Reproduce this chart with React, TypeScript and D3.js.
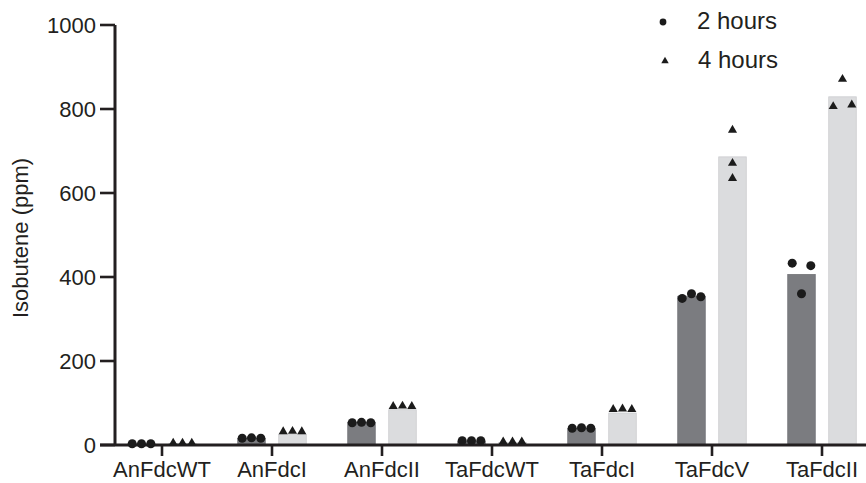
import React from "react";
import * as d3 from "d3";

const categories = ["AnFdcWT", "AnFdcI", "AnFdcII", "TaFdcWT", "TaFdcI", "TaFdcV", "TaFdcII"];
const seriesNames = ["2 hours", "4 hours"];
const mean2h = [2, 16, 54, 9, 39, 354, 406];
const mean4h = [3, 25, 84, 6, 76, 686, 829];
const points2h = [
  [3, 3, 3],
  [16, 17, 16],
  [53, 54, 53],
  [10, 10, 10],
  [40, 41, 40],
  [349, 360, 353],
  [433, 360, 427],
];
const points4h = [
  [5, 5, 5],
  [32, 33, 32],
  [92, 93, 92],
  [8, 8, 8],
  [85, 86, 85],
  [750, 671, 635],
  [806, 871, 810],
];
const yTicks = [0, 200, 400, 600, 800, 1000];
const yTitle = "Isobutene (ppm)";

const W = 866;
const H = 483;
const FONT = "'Liberation Sans', Arial, Helvetica, sans-serif";
const INK = "#231f20";
const DARK = "#7b7c80";
const LIGHT = "#dbdcde";

export default function App() {
  const y = d3.scaleLinear().domain([0, 1000]).range([445, 25]);
  const x0 = d3.scaleBand<string>().domain(categories).range([107, 877]).paddingInner(0).paddingOuter(0);
  const x1 = d3
    .scaleBand<string>()
    .domain(seriesNames)
    .range([0, x0.bandwidth()])
    .paddingInner(0.329)
    .paddingOuter(0.506);

  const circle = d3.symbol().type(d3.symbolCircle).size(64)()!;
  const tri = d3.symbol().type(d3.symbolTriangle).size(36)()!;
  const circleL = d3.symbol().type(d3.symbolCircle).size(36)()!;
  const triL = d3.symbol().type(d3.symbolTriangle).size(24)()!;

  const spread = 9.3;
  // GraphPad-like horizontal spreading of points that overlap vertically
  const offsets = (vals: number[]) => {
    const px = vals.map((v) => y(v));
    const n = vals.length;
    const group: number[] = vals.map((_, i) => i);
    for (let i = 0; i < n; i++)
      for (let j = i + 1; j < n; j++)
        if (Math.abs(px[i] - px[j]) < 9) {
          const g = group[j];
          for (let k = 0; k < n; k++) if (group[k] === g) group[k] = group[i];
        }
    const res: number[] = new Array(n).fill(0);
    const seen = new Set<number>();
    for (let i = 0; i < n; i++) {
      const g = group[i];
      if (seen.has(g)) continue;
      seen.add(g);
      const members = group.map((gg, k) => (gg === g ? k : -1)).filter((k) => k >= 0);
      const m = members.length;
      members.forEach((k, idx) => {
        res[k] = m === 1 ? 0 : (idx - (m - 1) / 2) * (m === 2 ? 2 : 1) * spread;
      });
    }
    return res;
  };

  const series = [
    { name: seriesNames[0], means: mean2h, pts: points2h, fill: DARK, stroke: "#727377", sym: circle },
    { name: seriesNames[1], means: mean4h, pts: points4h, fill: LIGHT, stroke: "#cbcccf", sym: tri },
  ];

  return (
    <svg
      width={W}
      height={H}
      style={{ position: "absolute", left: 0, top: 0, background: "#fff" }}
      fontFamily={FONT}
    >
      {/* bars */}
      {series.map((s) =>
        categories.map((c, i) => {
          const bx = x0(c)! + x1(s.name)!;
          return (
            <rect
              key={s.name + c}
              x={bx}
              y={y(s.means[i])}
              width={x1.bandwidth()}
              height={y(0) - y(s.means[i])}
              fill={s.fill}
              stroke={s.stroke}
              strokeWidth={0.8}
            />
          );
        })
      )}
      {/* axes */}
      <line x1={115} x2={115} y1={y(1000)} y2={y(0)} stroke={INK} strokeWidth={3} />
      <line x1={100} x2={W} y1={y(0)} y2={y(0)} stroke={INK} strokeWidth={3} />
      {yTicks.map((t) => (
        <g key={t}>
          <line x1={100} x2={115} y1={y(t)} y2={y(t)} stroke={INK} strokeWidth={2.6} />
          <text x={96} y={y(t)} dy="0.35em" textAnchor="end" fontSize={22} fill={INK}>
            {t}
          </text>
        </g>
      ))}
      {categories.map((c) => {
        const cx = x0(c)! + x0.bandwidth() / 2;
        return (
          <g key={c}>
            <line x1={cx} x2={cx} y1={y(0)} y2={y(0) + 11} stroke={INK} strokeWidth={2.6} />
            <text x={cx} y={477} textAnchor="middle" fontSize={22} fill={INK}>
              {c}
            </text>
          </g>
        );
      })}
      <text transform={`translate(28,${(y(0) + y(1000)) / 2 + 3}) rotate(-90)`} textAnchor="middle" fontSize={22} fill={INK}>
        {yTitle}
      </text>
      {/* points */}
      {series.map((s) =>
        categories.map((c, i) => {
          const cx = x0(c)! + x1(s.name)! + x1.bandwidth() / 2;
          const offs = offsets(s.pts[i]);
          return s.pts[i].map((v, k) => (
            <path key={s.name + c + k} d={s.sym} transform={`translate(${cx + offs[k]},${y(v)})`} fill="#1b1b1b" />
          ));
        })
      )}
      {/* legend */}
      <path d={circleL} transform="translate(663,22)" fill="#1b1b1b" />
      <text x={697} y={29} fontSize={24} fill={INK}>
        {seriesNames[0]}
      </text>
      <path d={triL} transform="translate(665,61)" fill="#1b1b1b" />
      <text x={698} y={68} fontSize={24} fill={INK}>
        {seriesNames[1]}
      </text>
    </svg>
  );
}
